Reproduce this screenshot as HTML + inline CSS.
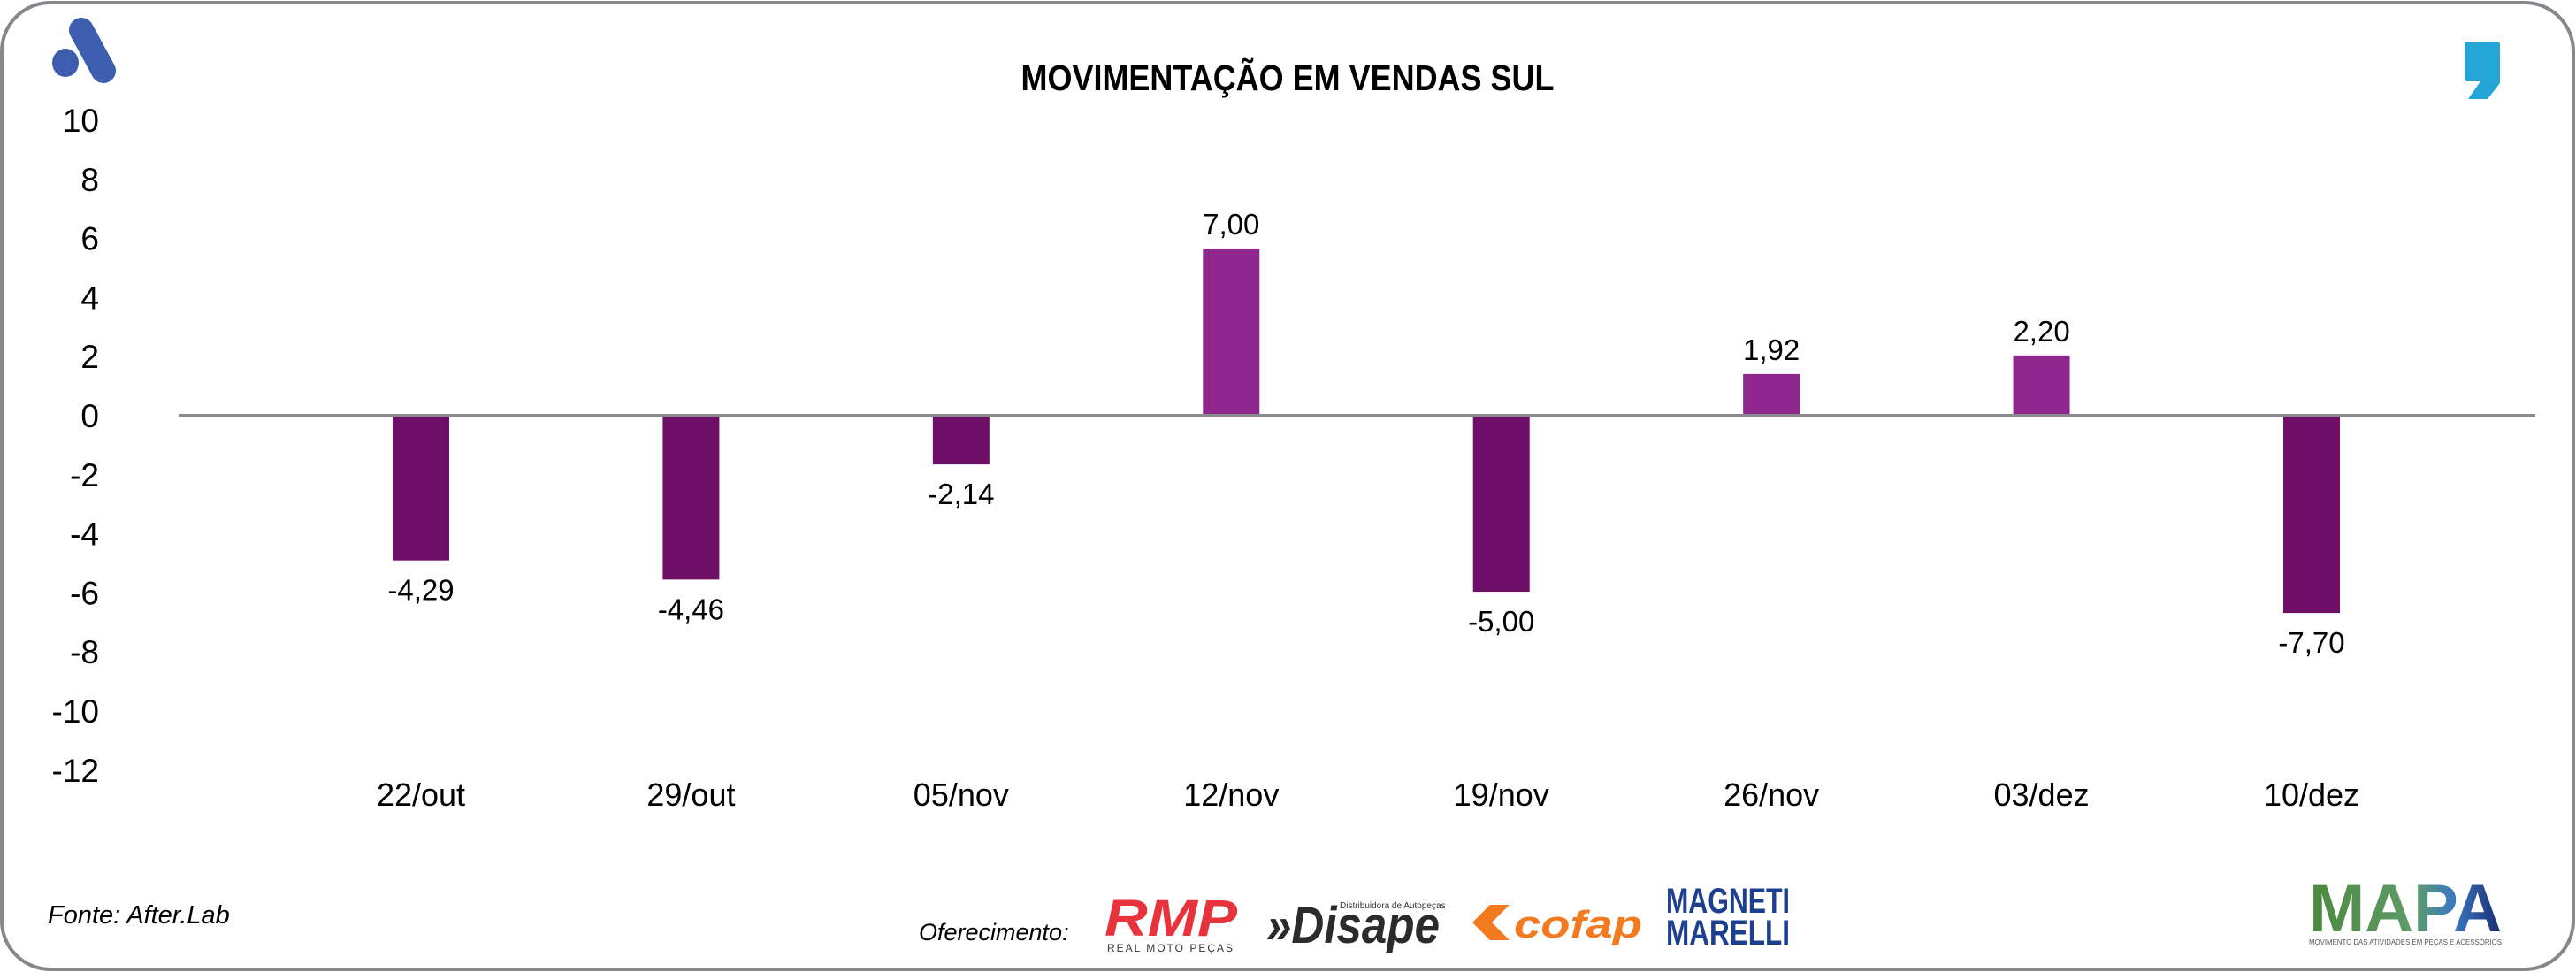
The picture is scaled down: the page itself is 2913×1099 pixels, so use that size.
<!DOCTYPE html>
<html><head><meta charset="utf-8">
<style>
html,body{margin:0;padding:0;background:#fff;}
svg{display:block;}
text{font-family:"Liberation Sans Narrow","Liberation Sans",sans-serif;}
</style></head>
<body>
<svg id="chart" width="2913" height="1099" viewBox="0 0 2913 1099" xmlns="http://www.w3.org/2000/svg">
  <rect x="2" y="3" width="2908" height="1093" rx="55" ry="55" fill="#fff" stroke="#87878b" stroke-width="4"/>
  <g>
    <ellipse cx="74" cy="71" rx="15" ry="16" fill="#3d5daf"/>
    <line x1="92" y1="34" x2="117" y2="80" stroke="#3d5daf" stroke-width="28" stroke-linecap="round"/>
  </g>
  <path d="M2790 47 h34 a3 3 0 0 1 3 3 v44 l-14 18 h-22 l14 -20 h-15 a3 3 0 0 1 -3 -3 v-39 a3 3 0 0 1 3 -3z" fill="#23a6d6"/>
  <text x="1456" y="102" text-anchor="middle" font-size="41" font-weight="bold" textLength="603" lengthAdjust="spacingAndGlyphs" fill="#000">MOVIMENTAÇÃO EM VENDAS SUL</text>
  <g id="yaxis"></g>
  <g id="bars"></g>
  <g id="xaxis"></g>
  <line x1="202" y1="470" x2="2867" y2="470" stroke="#8a8a8e" stroke-width="4"/>
  <text x="54" y="1044" font-size="29" font-style="italic" fill="#000">Fonte: After.Lab</text>
  <text x="1039" y="1063" font-size="27" font-style="italic" fill="#000">Oferecimento:</text>
  <g>
    <text x="1324" y="1058" text-anchor="middle" font-size="58" font-weight="bold" font-style="italic" fill="#e8333c" textLength="150" lengthAdjust="spacingAndGlyphs">RMP</text>
    <text x="1324" y="1076" text-anchor="middle" font-size="12" fill="#333" letter-spacing="2">REAL MOTO PEÇAS</text>
  </g>
  <g>
    <text x="1432" y="1066" font-size="58" font-weight="bold" font-style="italic" fill="#2b2b2b" textLength="196" lengthAdjust="spacingAndGlyphs">»Disape</text>
    <text x="1515" y="1027" font-size="10" fill="#333">Distribuidora de Autopeças</text>
  </g>
  <g>
    <path d="M1665 1043 l20 -20 h22 l-20 20 l20 20 h-22z" fill="#f47a20"/>
    <text x="1712" y="1060" font-size="44" font-weight="bold" font-style="italic" fill="#f47a20" textLength="145" lengthAdjust="spacingAndGlyphs">cofap</text>
  </g>
  <g>
    <text x="1954" y="1032" text-anchor="middle" font-size="40" font-weight="bold" fill="#1d3f8f" textLength="140" lengthAdjust="spacingAndGlyphs">MAGNETI</text>
    <text x="1954" y="1068" text-anchor="middle" font-size="40" font-weight="bold" fill="#1d3f8f" textLength="140" lengthAdjust="spacingAndGlyphs">MARELLI</text>
  </g>
  <g>
    <defs><linearGradient id="mg" x1="0" x2="1" y1="0" y2="0"><stop offset="0" stop-color="#4c8a3e"/><stop offset="0.55" stop-color="#5e9b6a"/><stop offset="0.75" stop-color="#3c78c4"/><stop offset="1" stop-color="#1a2c6e"/></linearGradient></defs>
    <text x="2720" y="1053" text-anchor="middle" font-size="76" font-weight="bold" fill="url(#mg)" textLength="218" lengthAdjust="spacingAndGlyphs">MAPA</text>
    <text x="2720" y="1068" text-anchor="middle" font-size="8" fill="#555" textLength="218" lengthAdjust="spacingAndGlyphs">MOVIMENTO DAS ATIVIDADES EM PEÇAS E ACESSÓRIOS</text>
  </g>
</svg>
<script>
const categories = ["22/out","29/out","05/nov","12/nov","19/nov","26/nov","03/dez","10/dez"];
const barValues = [-4.9, -5.55, -1.65, 5.66, -5.96, 1.41, 2.04, -6.68];
const valueLabels = ["-4,29","-4,46","-2,14","7,00","-5,00","1,92","2,20","-7,70"];
const yTicks = [10, 8, 6, 4, 2, 0, -2, -4, -6, -8, -10, -12];

const NS = "http://www.w3.org/2000/svg";
const zeroY = 470, unit = 33.4;
function yScale(v){ return zeroY - v * unit; }
const x0 = 476, x1 = 2614;
function xScale(i){ return x0 + i * (x1 - x0) / (categories.length - 1); }
const barW = 64;

const yAxis = document.getElementById("yaxis");
yTicks.forEach(function(t){
  const el = document.createElementNS(NS, "text");
  
  
  el.setAttribute("x", 112);
  el.setAttribute("y", yScale(t) + 13);
  el.setAttribute("text-anchor", "end");
  el.setAttribute("font-size", "37");
  el.textContent = String(t);
  yAxis.appendChild(el);
});

const barsG = document.getElementById("bars");
const xAxis = document.getElementById("xaxis");
categories.forEach(function(c, i){
  const v = barValues[i];
  const cx = xScale(i);
  const top = v >= 0 ? yScale(v) : zeroY;
  const h = Math.abs(yScale(v) - zeroY);
  const r = document.createElementNS(NS, "rect");
  
  
  r.setAttribute("x", cx - barW / 2);
  r.setAttribute("y", top);
  r.setAttribute("width", barW);
  r.setAttribute("height", h);
  r.setAttribute("fill", v >= 0 ? "#90278e" : "#6e0e67");
  barsG.appendChild(r);

  const lb = document.createElementNS(NS, "text");
  
  
  lb.setAttribute("x", cx);
  lb.setAttribute("y", v >= 0 ? yScale(v) - 16 : yScale(v) + 45);
  lb.setAttribute("text-anchor", "middle");
  lb.setAttribute("font-size", "33");
  lb.textContent = valueLabels[i];
  barsG.appendChild(lb);

  const xl = document.createElementNS(NS, "text");
  
  
  xl.setAttribute("x", cx);
  xl.setAttribute("y", 911);
  xl.setAttribute("text-anchor", "middle");
  xl.setAttribute("font-size", "36");
  xl.textContent = c;
  xAxis.appendChild(xl);
});
</script>
</body></html>
